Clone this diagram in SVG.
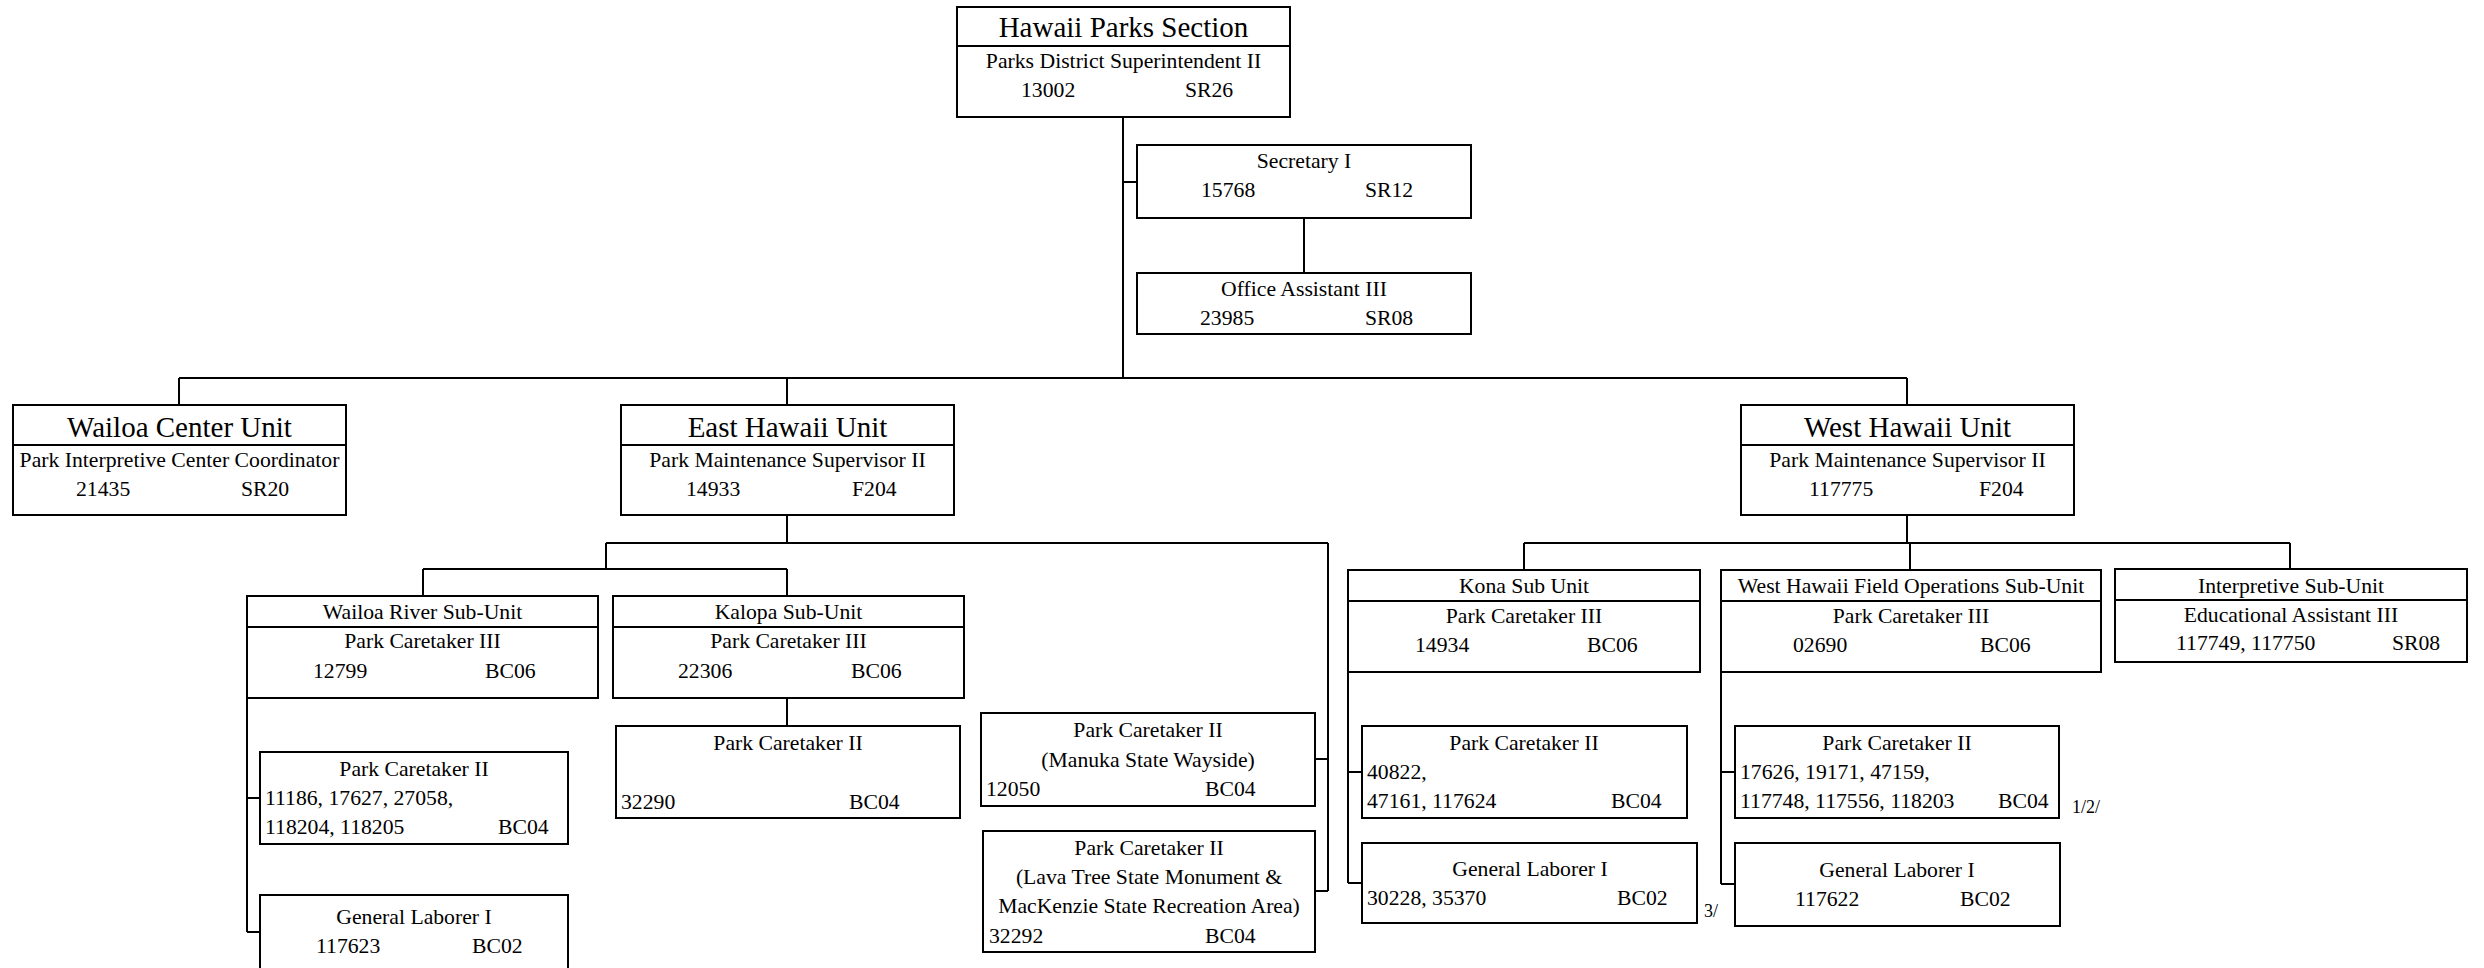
<svg xmlns="http://www.w3.org/2000/svg" width="2484" height="968" viewBox="0 0 2484 968">
<style>
rect{fill:#fff;stroke:#000;stroke-width:2}
.dv{stroke:#000;stroke-width:2}
#connectors path{fill:none;stroke:#000;stroke-width:2}
text{font-family:"Liberation Serif","Times New Roman",serif;font-size:21.7px;fill:#000}
.t{font-size:29px;text-anchor:middle}
.c{text-anchor:middle}
.n{font-size:18px}
</style>
<rect width="2484" height="968" style="stroke:none"/>
<g id="connectors">
<path d="M1123 117V378M1123 182H1137M1304 218V273M179 378H1907M179 378V405M787 378V405M1907 378V405"/>
<path d="M787 515V543M606 543H1328M606 543V569M423 569H787M423 569V596M787 569V596M787 698V726"/>
<path d="M247 698V932M247 798H260M247 932H260"/>
<path d="M1328 543V891M1315 759H1328M1315 891H1328"/>
<path d="M1907 515V543M1524 543H2290M1524 543V570M1910 543V570M2290 543V569"/>
<path d="M1348 672V883M1348 772H1362M1348 883H1362"/>
<path d="M1721 672V884M1721 772H1735M1721 884H1735"/>
</g>
<g id="hawaii-parks-section">
<rect x="957" y="7" width="333" height="110"/><line class="dv" x1="957" y1="46" x2="1290" y2="46"/>
<text class="t" x="1123.5" y="37">Hawaii Parks Section</text>
<text class="c" x="1123.5" y="68">Parks District Superintendent II</text>
<text x="1021" y="97">13002</text><text x="1185" y="97">SR26</text>
</g>
<g id="secretary">
<rect x="1137" y="145" width="334" height="73"/>
<text class="c" x="1304" y="168">Secretary I</text>
<text x="1201" y="197">15768</text><text x="1365" y="197">SR12</text>
</g>
<g id="office-assistant">
<rect x="1137" y="273" width="334" height="61"/>
<text class="c" x="1304" y="296">Office Assistant III</text>
<text x="1200" y="325">23985</text><text x="1365" y="325">SR08</text>
</g>
<g id="wailoa-center">
<rect x="13" y="405" width="333" height="110"/><line class="dv" x1="13" y1="445" x2="346" y2="445"/>
<text class="t" x="179.5" y="437">Wailoa Center Unit</text>
<text class="c" x="179.5" y="467">Park Interpretive Center Coordinator</text>
<text x="76" y="496">21435</text><text x="241" y="496">SR20</text>
</g>
<g id="east-hawaii">
<rect x="621" y="405" width="333" height="110"/><line class="dv" x1="621" y1="445" x2="954" y2="445"/>
<text class="t" x="787.5" y="437">East Hawaii Unit</text>
<text class="c" x="787.5" y="467">Park Maintenance Supervisor II</text>
<text x="686" y="496">14933</text><text x="852" y="496">F204</text>
</g>
<g id="west-hawaii">
<rect x="1741" y="405" width="333" height="110"/><line class="dv" x1="1741" y1="445" x2="2074" y2="445"/>
<text class="t" x="1907.5" y="437">West Hawaii Unit</text>
<text class="c" x="1907.5" y="467">Park Maintenance Supervisor II</text>
<text x="1809" y="496">117775</text><text x="1979" y="496">F204</text>
</g>
<g id="wailoa-river">
<rect x="247" y="596" width="351" height="102"/><line class="dv" x1="247" y1="627" x2="598" y2="627"/>
<text class="c" x="422.5" y="619">Wailoa River Sub-Unit</text>
<text class="c" x="422.5" y="648">Park Caretaker III</text>
<text x="313" y="678">12799</text><text x="485" y="678">BC06</text>
</g>
<g id="kalopa">
<rect x="613" y="596" width="351" height="102"/><line class="dv" x1="613" y1="627" x2="964" y2="627"/>
<text class="c" x="788.5" y="619">Kalopa Sub-Unit</text>
<text class="c" x="788.5" y="648">Park Caretaker III</text>
<text x="678" y="678">22306</text><text x="851" y="678">BC06</text>
</g>
<g id="kalopa-pc2">
<rect x="616" y="726" width="344" height="92"/>
<text class="c" x="788" y="750">Park Caretaker II</text>
<text x="621" y="809">32290</text><text x="849" y="809">BC04</text>
</g>
<g id="wailoa-pc2">
<rect x="260" y="752" width="308" height="92"/>
<text class="c" x="414" y="776">Park Caretaker II</text>
<text x="265" y="805">11186, 17627, 27058,</text>
<text x="265" y="834">118204, 118205</text><text x="498" y="834">BC04</text>
</g>
<g id="wailoa-gl">
<rect x="260" y="895" width="308" height="80"/>
<text class="c" x="414" y="924">General Laborer I</text>
<text x="316" y="953">117623</text><text x="472" y="953">BC02</text>
</g>
<g id="manuka">
<rect x="981" y="713" width="334" height="93"/>
<text class="c" x="1148" y="737">Park Caretaker II</text>
<text class="c" x="1148" y="767">(Manuka State Wayside)</text>
<text x="986" y="796">12050</text><text x="1205" y="796">BC04</text>
</g>
<g id="lava-tree">
<rect x="983" y="831" width="332" height="121"/>
<text class="c" x="1149" y="855">Park Caretaker II</text>
<text class="c" x="1149" y="884">(Lava Tree State Monument &amp;</text>
<text class="c" x="1149" y="913">MacKenzie State Recreation Area)</text>
<text x="989" y="943">32292</text><text x="1205" y="943">BC04</text>
</g>
<g id="kona">
<rect x="1348" y="570" width="352" height="102"/><line class="dv" x1="1348" y1="601" x2="1700" y2="601"/>
<text class="c" x="1524" y="593">Kona Sub Unit</text>
<text class="c" x="1524" y="623">Park Caretaker III</text>
<text x="1415" y="652">14934</text><text x="1587" y="652">BC06</text>
</g>
<g id="kona-pc2">
<rect x="1362" y="726" width="325" height="92"/>
<text class="c" x="1524" y="750">Park Caretaker II</text>
<text x="1367" y="779">40822,</text>
<text x="1367" y="808">47161, 117624</text><text x="1611" y="808">BC04</text>
</g>
<g id="kona-gl">
<rect x="1362" y="843" width="335" height="80"/>
<text class="c" x="1530" y="876">General Laborer I</text>
<text x="1367" y="905">30228, 35370</text><text x="1617" y="905">BC02</text>
<text class="n" x="1704" y="917">3/</text>
</g>
<g id="west-hawaii-field-ops">
<rect x="1721" y="570" width="380" height="102"/><line class="dv" x1="1721" y1="601" x2="2101" y2="601"/>
<text class="c" x="1911" y="593">West Hawaii Field Operations Sub-Unit</text>
<text class="c" x="1911" y="623">Park Caretaker III</text>
<text x="1793" y="652">02690</text><text x="1980" y="652">BC06</text>
</g>
<g id="whfo-pc2">
<rect x="1735" y="726" width="324" height="92"/>
<text class="c" x="1897" y="750">Park Caretaker II</text>
<text x="1740" y="779">17626, 19171, 47159,</text>
<text x="1740" y="808">117748, 117556, 118203</text><text x="1998" y="808">BC04</text>
<text class="n" x="2072" y="813">1/2/</text>
</g>
<g id="whfo-gl">
<rect x="1735" y="843" width="325" height="83"/>
<text class="c" x="1897" y="877">General Laborer I</text>
<text x="1795" y="906">117622</text><text x="1960" y="906">BC02</text>
</g>
<g id="interpretive">
<rect x="2115" y="569" width="352" height="93"/><line class="dv" x1="2115" y1="600" x2="2467" y2="600"/>
<text class="c" x="2291" y="593">Interpretive Sub-Unit</text>
<text class="c" x="2291" y="622">Educational Assistant III</text>
<text x="2176" y="650">117749, 117750</text><text x="2392" y="650">SR08</text>
</g>
</svg>
